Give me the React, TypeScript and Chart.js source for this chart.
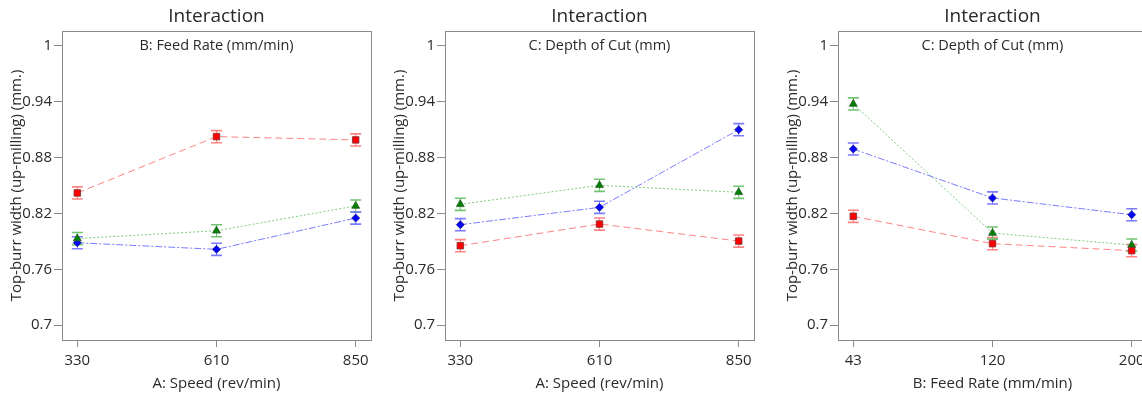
import React, { useEffect, useRef } from 'react';
import { Chart, registerables } from 'chart.js';

Chart.register(...registerables);

// ---------- data ----------
const panelTitle = 'Interaction';
const yAxisTitle = 'Top-burr width (up-milling) (mm.)';
const yTickValues = [0.7, 0.76, 0.82, 0.88, 0.94, 1];
const codedLevels = [-1, 0, 1];

const speedLabels = ['330', '610', '850'];
const feedLabels = ['43', '120', '200'];

const p1Subtitle = 'B: Feed Rate (mm/min)';
const p1XTitle = 'A: Speed (rev/min)';
const p1Red = [0.842, 0.9025, 0.899];
const p1Green = [0.793, 0.8014, 0.828];
const p1Blue = [0.7885, 0.7814, 0.815];

const p2Subtitle = 'C: Depth of Cut (mm)';
const p2XTitle = 'A: Speed (rev/min)';
const p2Red = [0.7853, 0.8086, 0.7903];
const p2Green = [0.8298, 0.8502, 0.8427];
const p2Blue = [0.8079, 0.8265, 0.91];

const p3Subtitle = 'C: Depth of Cut (mm)';
const p3XTitle = 'B: Feed Rate (mm/min)';
const p3Red = [0.8169, 0.7875, 0.78];
const p3Green = [0.9376, 0.7989, 0.786];
const p3Blue = [0.8892, 0.8366, 0.8186];

const errorHalf = [0.0065, 0.0065, 0.0065];

// ---------- styles ----------
const FONT = "'Open Sans', 'Noto Sans', sans-serif";
const TEXT = '#2a2a2a';
const FRAME = '#8a8a8a';

const seriesStyles = [
  {
    key: 'red',
    line: 'rgba(255,110,110,0.85)',
    dash: [7, 4],
    fill: '#ff0000',
    border: '#7a3030',
    style: 'rect',
    radius: 4.6,
    err: 'rgba(255,120,120,0.9)',
  },
  {
    key: 'green',
    line: 'rgba(110,200,110,0.9)',
    dash: [2, 2],
    fill: '#008000',
    border: '#2f5f2f',
    style: 'triangle',
    radius: 4.6,
    err: 'rgba(100,190,100,0.9)',
  },
  {
    key: 'blue',
    line: 'rgba(110,110,255,0.9)',
    dash: [7, 2, 2, 2],
    fill: '#0000ff',
    border: '#202080',
    style: 'rectRot',
    radius: 4,
    err: 'rgba(110,110,255,0.9)',
  },
];

const fmtTick = (v: number) => String(Number(v.toFixed(2)));

const framePlugin = {
  id: 'frameAndTitles',
  beforeDatasetsDraw(chart: any) {
    const { ctx } = chart;
    const yScale = chart.scales.y;
    ctx.save();
    chart.data.datasets.forEach((ds: any, i: number) => {
      const meta = chart.getDatasetMeta(i);
      meta.data.forEach((el: any, j: number) => {
        const v = ds.data[j].y;
        const e = ds.errors[j];
        const yt = yScale.getPixelForValue(v + e);
        const yb = yScale.getPixelForValue(v - e);
        const x = el.x;
        ctx.strokeStyle = ds.errColor;
        ctx.setLineDash([]);
        ctx.lineWidth = 1;
        ctx.beginPath();
        ctx.moveTo(x, yt);
        ctx.lineTo(x, yb);
        ctx.stroke();
        ctx.lineWidth = 1.6;
        ctx.beginPath();
        ctx.moveTo(x - 5.5, yt);
        ctx.lineTo(x + 5.5, yt);
        ctx.moveTo(x - 5.5, yb);
        ctx.lineTo(x + 5.5, yb);
        ctx.stroke();
      });
    });
    ctx.restore();
  },
  afterDraw(chart: any) {
    const { ctx, chartArea } = chart;
    const opts = chart.options.plugins.frameAndTitles || {};
    ctx.save();
    ctx.strokeStyle = FRAME;
    ctx.lineWidth = 1;
    ctx.setLineDash([]);
    ctx.strokeRect(
      Math.round(chartArea.left) + 0.5,
      Math.round(chartArea.top) + 0.5,
      Math.round(chartArea.right - chartArea.left),
      Math.round(chartArea.bottom - chartArea.top)
    );
    const cx = (chartArea.left + chartArea.right) / 2;
    ctx.fillStyle = TEXT;
    ctx.textAlign = 'center';
    ctx.textBaseline = 'middle';
    ctx.font = `19px ${FONT}`;
    ctx.fillText(opts.title || '', cx, 17);
    ctx.font = `14.5px ${FONT}`;
    ctx.fillText(opts.subtitle || '', cx, 46);
    ctx.restore();
  },
};

type PanelProps = {
  left: number;
  subtitle: string;
  xTitle: string;
  xLabels: string[];
  red: number[];
  green: number[];
  blue: number[];
};

function Panel({ left, subtitle, xTitle, xLabels, red, green, blue }: PanelProps) {
  const ref = useRef<HTMLCanvasElement | null>(null);
  useEffect(() => {
    if (!ref.current) return;
    const values = [red, green, blue];
    const datasets = seriesStyles.map((s, i) => ({
      label: s.key,
      data: codedLevels.map((c, j) => ({ x: c, y: values[i][j] })),
      errors: errorHalf,
      errColor: s.err,
      borderColor: s.line,
      borderWidth: 1,
      borderDash: s.dash,
      backgroundColor: s.fill,
      pointBackgroundColor: s.fill,
      pointBorderColor: s.border,
      pointBorderWidth: 0.8,
      pointStyle: s.style,
      pointRadius: s.radius,
      tension: 0,
      fill: false,
    }));
    const chart = new Chart(ref.current, {
      type: 'line',
      data: { datasets } as any,
      plugins: [framePlugin],
      options: {
        responsive: false,
        animation: false,
        events: [],
        layout: { padding: { top: 31, right: 10, left: 0, bottom: 0 } },
        plugins: {
          legend: { display: false },
          tooltip: { enabled: false },
          title: { display: false },
          frameAndTitles: { title: panelTitle, subtitle },
        } as any,
        scales: {
          x: {
            type: 'linear',
            min: -1.11,
            max: 1.11,
            afterBuildTicks: (scale: any) => {
              scale.ticks = codedLevels.map((v) => ({ value: v }));
            },
            afterFit: (scale: any) => {
              scale.height = 54;
            },
            ticks: {
              autoSkip: false,
              maxRotation: 0,
              padding: 5,
              color: TEXT,
              font: { family: FONT, size: 15 },
              callback: (v: any) => {
                const idx = codedLevels.indexOf(Number(v));
                return idx >= 0 ? xLabels[idx] : '';
              },
            },
            grid: {
              drawOnChartArea: false,
              drawTicks: true,
              tickLength: 7,
              color: FRAME,
            },
            border: { display: false },
            title: {
              display: true,
              text: xTitle,
              color: TEXT,
              font: { family: FONT, size: 15 },
              padding: { top: 0, bottom: 1.5 },
            },
          },
          y: {
            type: 'linear',
            min: 0.684,
            max: 1.016,
            afterBuildTicks: (scale: any) => {
              scale.ticks = yTickValues.map((v) => ({ value: v }));
            },
            afterFit: (scale: any) => {
              scale.width = 62;
            },
            ticks: {
              padding: 2,
              color: TEXT,
              font: { family: FONT, size: 15 },
              callback: (v: any) => fmtTick(Number(v)),
            },
            grid: {
              drawOnChartArea: false,
              drawTicks: true,
              tickLength: 8,
              color: FRAME,
            },
            border: { display: false },
            title: {
              display: true,
              text: yAxisTitle,
              color: TEXT,
              font: { family: FONT, size: 15 },
              padding: { top: 8, bottom: 0 },
            },
          },
        },
      } as any,
    });
    return () => chart.destroy();
  }, []);
  return (
    <canvas
      ref={ref}
      width={381}
      height={394}
      style={{ position: 'absolute', left, top: 0, width: 381, height: 394 }}
    />
  );
}

export default function App() {
  return (
    <div
      style={{
        position: 'fixed',
        left: 0,
        top: 0,
        width: 1142,
        height: 394,
        overflow: 'hidden',
        background: '#ffffff',
      }}
    >
      <Panel left={0} subtitle={p1Subtitle} xTitle={p1XTitle} xLabels={speedLabels} red={p1Red} green={p1Green} blue={p1Blue} />
      <Panel left={383} subtitle={p2Subtitle} xTitle={p2XTitle} xLabels={speedLabels} red={p2Red} green={p2Green} blue={p2Blue} />
      <Panel left={776} subtitle={p3Subtitle} xTitle={p3XTitle} xLabels={feedLabels} red={p3Red} green={p3Green} blue={p3Blue} />
    </div>
  );
}
